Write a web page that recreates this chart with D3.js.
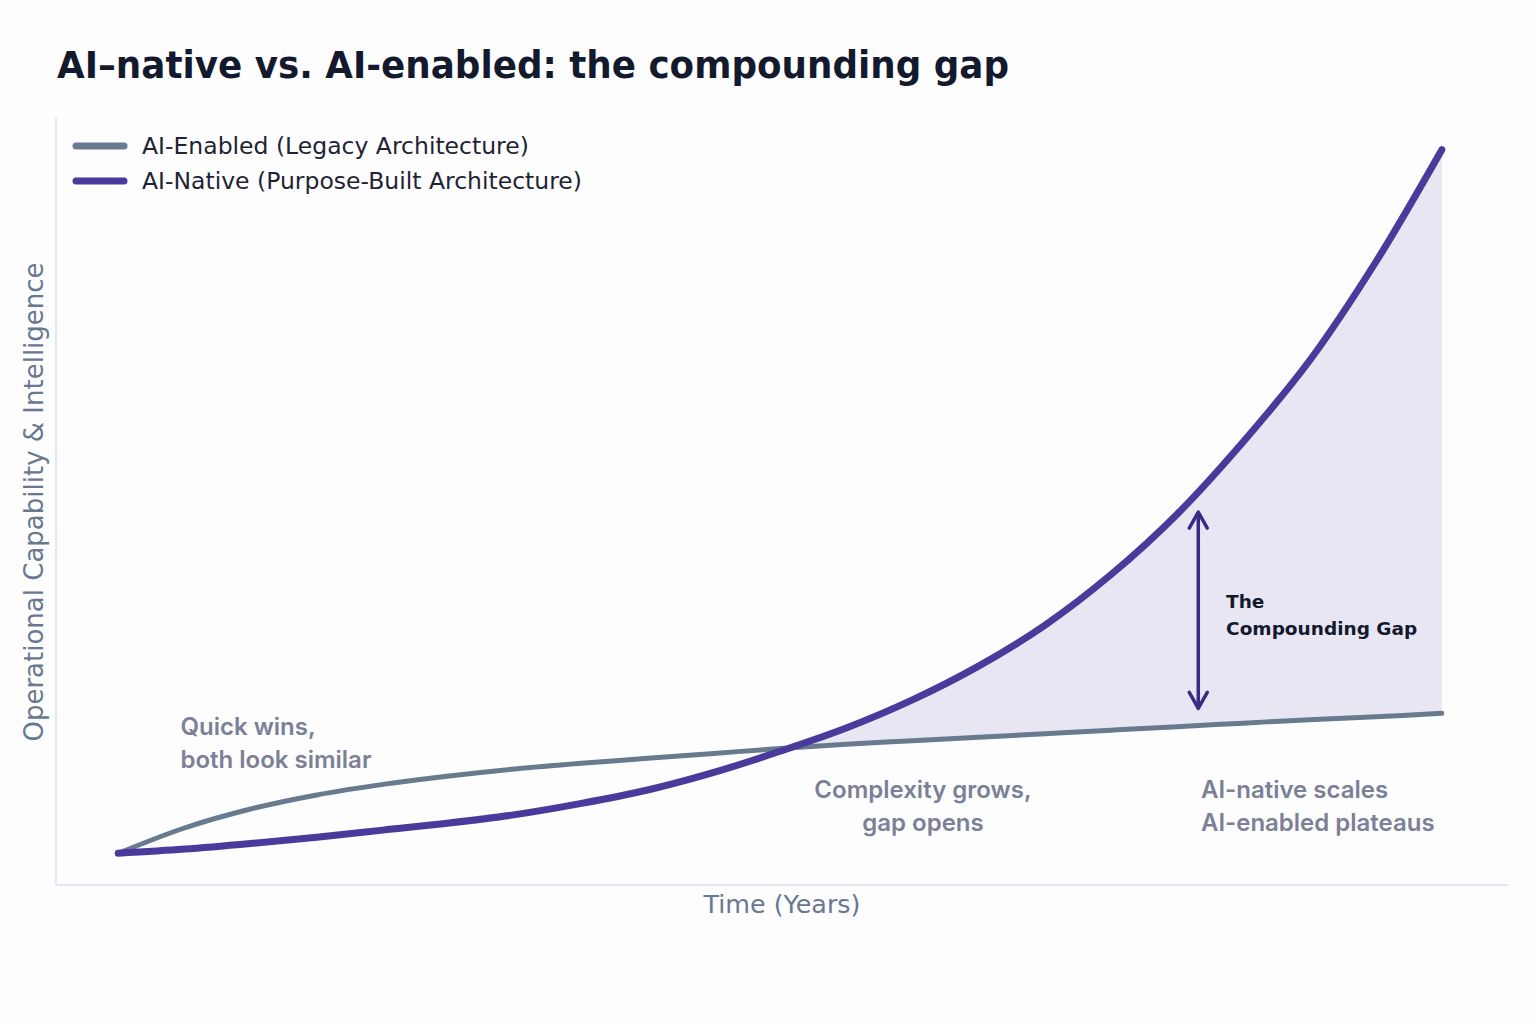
<!DOCTYPE html>
<html>
<head>
<meta charset="utf-8">
<script src="https://cdn.jsdelivr.net/npm/d3@7"></script>
<style>
  html, body { margin: 0; padding: 0; background: #fdfdfe; }
  svg { display: block; }
</style>
</head>
<body>
<svg id="chart" width="1536" height="1024"></svg>
<script>
// ---- data ----
const years = [0, 0.5, 1, 1.5, 2, 2.5, 3, 3.5, 4, 4.5, 5, 5.5, 6, 6.5, 7, 7.5, 8, 8.5, 9, 9.5, 10];
const aiEnabled = [0, 3.6, 6.3, 8.3, 9.8, 11.0, 12.0, 12.8, 13.5, 14.2, 14.9, 15.5, 16.0, 16.5, 17.0, 17.5, 18.0, 18.5, 19.0, 19.4, 19.9];
const aiNative  = [0, 0.6, 1.4, 2.3, 3.3, 4.3, 5.5, 7.1, 9.0, 11.5, 14.5, 17.8, 21.8, 26.6, 32.4, 39.6, 48.2, 58.5, 70.0, 84.0, 100];
const seriesNames = ["AI-Enabled (Legacy Architecture)", "AI-Native (Purpose-Built Architecture)"];
const titleText = "AI–native vs. AI-enabled: the compounding gap";
const xLabel = "Time (Years)";
const yLabel = "Operational Capability & Intelligence";
const notes = [
  { lines: ["Quick wins,", "both look similar"], t: 0.47, v: 16.8, anchor: "start" },
  { lines: ["Complexity grows,", "gap opens"], t: 6.08, v: 7.9, anchor: "middle" },
  { lines: ["AI-native scales", "AI-enabled plateaus"], t: 8.18, v: 7.9, anchor: "start" }
];
const gapArrow = { t: 8.16, from: 20.6, to: 48.5 };
const gapLabel = { lines: ["The", "Compounding Gap"], t: 8.37, v: 34.8 };

// ---- layout ----
const svg = d3.select("#chart");
const pLeft = 56, pRight = 1508, pTop = 118, pBottom = 885;
const x = d3.scaleLinear().domain([-0.47, 10.5]).range([pLeft, pRight]);
const y = d3.scaleLinear().domain([-4.5, 104.5]).range([pBottom, pTop]);

const colEnabled = "#687a8e";
const colNative = "#4b3a9c";
const curve = d3.curveCatmullRom.alpha(0.5);

// title
svg.append("text")
  .attr("x", 57).attr("y", 78)
  .attr("font-family", "DejaVu Sans").attr("font-weight", "bold")
  .attr("font-size", 37).attr("fill", "#141a2e")
  .attr("textLength", 952).attr("lengthAdjust", "spacingAndGlyphs")
  .text(titleText);

// spines
svg.append("line").attr("x1", pLeft).attr("x2", pLeft).attr("y1", pTop).attr("y2", pBottom)
  .attr("stroke", "#e3e7ef").attr("stroke-width", 2);
svg.append("line").attr("x1", pLeft).attr("x2", pRight).attr("y1", pBottom).attr("y2", pBottom)
  .attr("stroke", "#e3e7ef").attr("stroke-width", 2);

const data = years.map((t, i) => ({ t, e: aiEnabled[i], n: aiNative[i] }));

// fill between
const area = d3.area()
  .x(d => x(d.t))
  .y0(d => y(d.e))
  .y1(d => y(Math.max(d.e, d.n)))
  .curve(d3.curveMonotoneX);
svg.append("path").datum(data).attr("d", area).attr("fill", "#e9e6f3");

// lines
const lineE = d3.line().x(d => x(d.t)).y(d => y(d.e)).curve(curve);
const lineN = d3.line().x(d => x(d.t)).y(d => y(d.n)).curve(curve);
svg.append("path").datum(data).attr("d", lineE)
  .attr("fill", "none").attr("stroke", colEnabled).attr("stroke-width", 5).attr("stroke-linecap", "round");
svg.append("path").datum(data).attr("d", lineN)
  .attr("fill", "none").attr("stroke", colNative).attr("stroke-width", 7).attr("stroke-linecap", "round");

// gap arrow
const ax = x(gapArrow.t), ay1 = y(gapArrow.to), ay2 = y(gapArrow.from);
const arrowCol = "#3b2b86";
svg.append("line").attr("x1", ax).attr("x2", ax).attr("y1", ay1).attr("y2", ay2)
  .attr("stroke", arrowCol).attr("stroke-width", 3.5);
svg.append("path").attr("d", `M${ax-9},${ay1+16} L${ax},${ay1} L${ax+9},${ay1+16}`)
  .attr("fill", "none").attr("stroke", arrowCol).attr("stroke-width", 3.5).attr("stroke-linecap", "round").attr("stroke-linejoin", "round");
svg.append("path").attr("d", `M${ax-9},${ay2-16} L${ax},${ay2} L${ax+9},${ay2-16}`)
  .attr("fill", "none").attr("stroke", arrowCol).attr("stroke-width", 3.5).attr("stroke-linecap", "round").attr("stroke-linejoin", "round");

const gl = svg.append("text")
  .attr("font-family", "DejaVu Sans").attr("font-weight", "bold").attr("font-size", 18.5)
  .attr("fill", "#141a2e");
gapLabel.lines.forEach((s, i) => {
  gl.append("tspan").attr("x", x(gapLabel.t)).attr("y", y(gapLabel.v) + i * 27).text(s);
});

// annotations
notes.forEach(nt => {
  const tx = svg.append("text")
    .attr("font-family", "Inter").attr("font-weight", 600).attr("font-size", 24)
    .attr("fill", "#7b8097").attr("text-anchor", nt.anchor);
  nt.lines.forEach((s, i) => {
    tx.append("tspan").attr("x", x(nt.t)).attr("y", y(nt.v) + i * 33).text(s);
  });
});

// legend
const leg = [{ name: seriesNames[0], col: colEnabled }, { name: seriesNames[1], col: colNative }];
leg.forEach((l, i) => {
  const ly = 146 + i * 35;
  svg.append("line").attr("x1", 76).attr("x2", 124).attr("y1", ly).attr("y2", ly)
    .attr("stroke", l.col).attr("stroke-width", 7).attr("stroke-linecap", "round");
  svg.append("text").attr("x", 142).attr("y", ly + 8)
    .attr("font-family", "DejaVu Sans").attr("font-size", 23.5).attr("fill", "#1f2433")
    .text(l.name);
});

// axis labels
svg.append("text").attr("x", 782).attr("y", 913)
  .attr("text-anchor", "middle").attr("font-family", "DejaVu Sans").attr("font-size", 25.4)
  .attr("fill", "#687890").text(xLabel);
svg.append("text")
  .attr("transform", "translate(43,502) rotate(-90)")
  .attr("text-anchor", "middle").attr("font-family", "DejaVu Sans").attr("font-size", 26)
  .attr("fill", "#687890").text(yLabel);
</script>
</body>
</html>
